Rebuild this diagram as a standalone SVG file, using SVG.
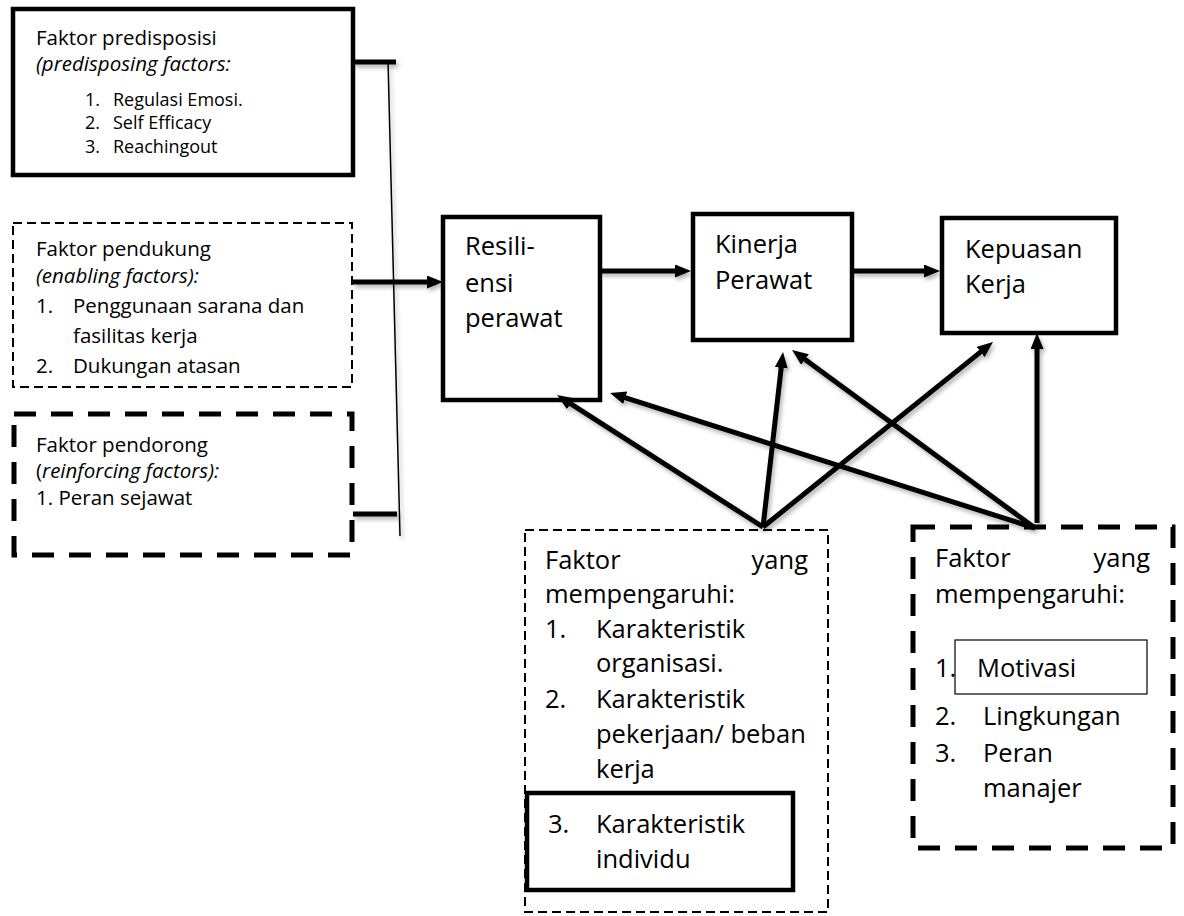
<svg xmlns="http://www.w3.org/2000/svg" width="1184" height="916" viewBox="0 0 1184 916">
<style>
text{font-family:"Open Sans","Noto Sans","Liberation Sans",sans-serif;fill:#000}
.h{font-size:20.5px}
.s{font-size:18px}
.b{font-size:25.5px}
.it{font-style:italic}
.box{fill:#fff;stroke:#000;stroke-width:4.5}
.thin{fill:none;stroke:#000;stroke-width:2;stroke-dasharray:9 5}
.thick{fill:none;stroke:#000;stroke-width:5;stroke-dasharray:22 15}
.con{stroke:#000;stroke-width:5;fill:none}
.arr{marker-end:url(#ah)}
</style>
<defs>
<marker id="ah" markerUnits="userSpaceOnUse" markerWidth="18" markerHeight="15" refX="7" refY="6.5" orient="auto">
<path d="M0,0 L16,6.5 L0,13 z" fill="#000"/>
</marker>
<filter id="sh" x="-10%" y="-10%" width="130%" height="130%">
<feDropShadow dx="2" dy="3" stdDeviation="2" flood-color="#000" flood-opacity="0.3"/>
</filter>
</defs>

<g id="predisposisi">
<rect class="box" x="13" y="9" width="340" height="166"/>
<text class="h" x="36" y="45">Faktor predisposisi</text>
<text class="h it" x="36" y="71">(predisposing factors:</text>
<text class="s" x="85" y="106">1.</text><text class="s" x="113" y="106">Regulasi Emosi.</text>
<text class="s" x="85" y="129">2.</text><text class="s" x="113" y="129">Self Efficacy</text>
<text class="s" x="85" y="153">3.</text><text class="s" x="113" y="153">Reachingout</text>
</g>

<g id="pendukung">
<rect class="thin" x="13" y="223" width="339" height="164" fill="#fff"/>
<text class="h" x="36" y="256">Faktor pendukung</text>
<text class="h it" x="36" y="283">(enabling factors):</text>
<text class="h" x="36" y="313">1.</text><text class="h" x="73" y="313">Penggunaan sarana dan</text>
<text class="h" x="73" y="343">fasilitas kerja</text>
<text class="h" x="36" y="373">2.</text><text class="h" x="73" y="373">Dukungan atasan</text>
</g>

<g id="pendorong">
<rect class="thick" x="14" y="414" width="338" height="141"/>
<text class="h" x="36" y="452">Faktor pendorong</text>
<text class="h" x="36" y="478">(<tspan class="it">reinforcing factors):</tspan></text>
<text class="h" x="36" y="505">1. Peran sejawat</text>
</g>

<g id="resiliensi">
<rect class="box" x="443" y="217" width="157" height="183"/>
<text class="b" x="465" y="255">Resili-</text>
<text class="b" x="465" y="292">ensi</text>
<text class="b" x="465" y="327">perawat</text>
</g>

<g id="kinerja">
<rect class="box" x="693" y="214" width="159" height="126"/>
<text class="b" x="715" y="253">Kinerja</text>
<text class="b" x="715" y="289">Perawat</text>
</g>

<g id="kepuasan">
<rect class="box" x="942" y="218" width="174" height="115"/>
<text class="b" x="965" y="258">Kepuasan</text>
<text class="b" x="965" y="293">Kerja</text>
</g>

<g id="faktor-kinerja">
<rect class="thin" x="525" y="530" width="303" height="382" fill="#fff"/>
<text class="b" x="545" y="569">Faktor</text>
<text class="b" x="808" y="569" text-anchor="end">yang</text>
<text class="b" x="545" y="603">mempengaruhi:</text>
<text class="b" x="545" y="638">1.</text><text class="b" x="596" y="638">Karakteristik</text>
<text class="b" x="596" y="672">organisasi.</text>
<text class="b" x="545" y="708">2.</text><text class="b" x="596" y="708">Karakteristik</text>
<text class="b" x="596" y="743">pekerjaan/ beban</text>
<text class="b" x="596" y="778">kerja</text>
<rect class="box" x="527" y="793" width="266" height="97" stroke-width="4"/>
<text class="b" x="548" y="833">3.</text><text class="b" x="596" y="833">Karakteristik</text>
<text class="b" x="596" y="868">individu</text>
</g>

<g id="faktor-kepuasan">
<rect class="thick" x="913" y="527" width="260" height="321"/>
<text class="b" x="935" y="567">Faktor</text>
<text class="b" x="1150" y="567" text-anchor="end">yang</text>
<text class="b" x="935" y="603">mempengaruhi:</text>
<text class="b" x="935" y="677">1.</text>
<rect x="955" y="640" width="192" height="54" fill="#fff" stroke="#000" stroke-width="1.2"/>
<text class="b" x="977" y="677">Motivasi</text>
<text class="b" x="935" y="725">2.</text><text class="b" x="983" y="725">Lingkungan</text>
<text class="b" x="935" y="762">3.</text><text class="b" x="983" y="762">Peran</text>
<text class="b" x="983" y="797">manajer</text>
</g>

<g id="connectors" filter="url(#sh)">
<line class="con" x1="353" y1="62" x2="396" y2="62"/>
<line x1="388" y1="60" x2="400" y2="536" stroke="#000" stroke-width="1.5"/>
<line class="con" x1="353" y1="514" x2="397" y2="514"/>
<line class="con arr" x1="353" y1="282" x2="434" y2="282"/>
<line class="con arr" x1="600" y1="271" x2="682" y2="271"/>
<line class="con arr" x1="852" y1="271" x2="931" y2="271"/>
<line class="con arr" x1="763" y1="527" x2="564.6" y2="399.9"/>
<line class="con arr" x1="763" y1="527" x2="782" y2="360.9"/>
<line class="con arr" x1="763" y1="527" x2="986" y2="347.6"/>
<line class="con arr" x1="1035" y1="528" x2="618.6" y2="395.7"/>
<line class="con arr" x1="1035" y1="528" x2="799.3" y2="355.3"/>
<line class="con arr" x1="1037" y1="523" x2="1037" y2="342"/>
</g>
</svg>
